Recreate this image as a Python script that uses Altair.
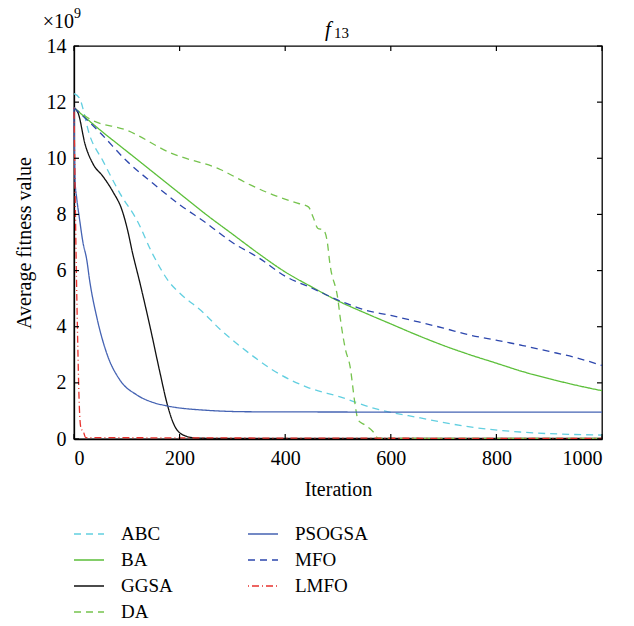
import altair as alt
import pandas as pd

# Values in units of 1e9 (the axis shows a x10^9 multiplier)
abc_x = [0, 10, 30, 55, 87, 119, 150, 182, 200, 245, 277, 315, 350, 377, 441, 504, 567, 656, 750, 845, 1000]
abc_y = [12.3, 12.15, 10.8, 9.9, 8.75, 7.8, 6.55, 5.55, 5.2, 4.5, 3.9, 3.3, 2.8, 2.45, 1.85, 1.5, 1.1, 0.75, 0.43, 0.25, 0.14]

ba_x = [0, 50, 100, 150, 200, 250, 300, 350, 400, 450, 500, 550, 600, 650, 700, 750, 800, 850, 900, 950, 1000]
ba_y = [11.8, 11.0, 10.25, 9.5, 8.75, 8.0, 7.3, 6.6, 5.95, 5.42, 4.92, 4.5, 4.1, 3.7, 3.33, 3.0, 2.7, 2.4, 2.15, 1.92, 1.72]

ggsa_x = [0, 8, 21, 36, 55, 74, 91, 102, 110, 125, 144, 163, 176, 188, 207, 233, 300, 1000]
ggsa_y = [11.8, 11.6, 10.5, 9.8, 9.35, 8.8, 8.15, 7.4, 6.7, 5.55, 4.0, 2.35, 1.28, 0.57, 0.14, 0.03, 0.02, 0.02]

da_x = [0, 30, 100, 182, 277, 334, 377, 423, 444, 453, 462, 472, 479, 485, 500, 504, 514, 523, 532, 538, 551, 567, 576, 600, 1000]
da_y = [11.8, 11.4, 11.0, 10.2, 9.6, 9.05, 8.7, 8.4, 8.27, 7.9, 7.5, 7.45, 7.1, 6.2, 4.95, 4.35, 3.2, 2.57, 1.28, 0.68, 0.5, 0.25, 0.03, 0.02, 0.02]

psogsa_x = [0, 2, 5, 10, 17, 24, 30, 43, 62, 87, 119, 150, 176, 245, 334, 600, 1000]
psogsa_y = [11.8, 9.2, 8.6, 7.9, 7.0, 6.4, 5.6, 4.35, 3.05, 2.1, 1.57, 1.3, 1.18, 1.03, 0.97, 0.96, 0.96]

mfo_x = [0, 50, 100, 150, 200, 250, 300, 350, 400, 450, 500, 550, 600, 650, 700, 750, 800, 850, 900, 950, 1000]
mfo_y = [11.8, 10.9, 9.9, 9.1, 8.35, 7.7, 7.0, 6.45, 5.8, 5.38, 4.95, 4.6, 4.4, 4.18, 3.95, 3.7, 3.52, 3.33, 3.12, 2.9, 2.62]

lmfo_x = [0, 2, 4, 7, 10, 13, 18, 22, 1000]
lmfo_y = [11.8, 9.0, 6.5, 3.5, 1.2, 0.4, 0.25, 0.05, 0.02]

series = {
    "ABC": (abc_x, abc_y),
    "BA": (ba_x, ba_y),
    "GGSA": (ggsa_x, ggsa_y),
    "DA": (da_x, da_y),
    "PSOGSA": (psogsa_x, psogsa_y),
    "MFO": (mfo_x, mfo_y),
    "LMFO": (lmfo_x, lmfo_y),
}

legend_order = ["ABC", "BA", "GGSA", "DA", "PSOGSA", "MFO", "LMFO"]
colors = ["#62cfe0", "#5cbf3a", "#111111", "#76c34e", "#4563b3", "#2d47ad", "#e8322e"]
dashes = [[7, 5], [1, 0], [1, 0], [7, 5], [1, 0], [7, 5], [1, 3, 7, 3]]

rows = []
for name, (xs_, ys_) in series.items():
    for xv, yv in zip(xs_, ys_):
        rows.append({"series": name, "Iteration": xv, "value": yv})
df = pd.DataFrame(rows)

x_ticks = [0, 200, 400, 600, 800, 1000]
y_ticks = [0, 2, 4, 6, 8, 10, 12, 14]

W, H = 528, 393
FONT = "Liberation Serif"

xs = alt.Scale(domain=[0, 1000], nice=False)
ys = alt.Scale(domain=[0, 14], nice=False)

lines = alt.Chart(df).mark_line(strokeWidth=1.3, interpolate="monotone").encode(
    x=alt.X("Iteration:Q", scale=xs,
            axis=alt.Axis(values=x_ticks, format="d", ticks=False, grid=False, title="Iteration",
                          labelPadding=9, titlePadding=11)),
    y=alt.Y("value:Q", scale=ys,
            axis=alt.Axis(values=y_ticks, format="d", ticks=False, grid=False, title="Average fitness value",
                          labelPadding=8, titlePadding=12)),
    color=alt.Color("series:N", scale=alt.Scale(domain=legend_order, range=colors), title=None),
    strokeDash=alt.StrokeDash("series:N", scale=alt.Scale(domain=legend_order, range=dashes), title=None),
    order=alt.Order("series:N"),
)

xt = pd.DataFrame({"t": x_ticks})
yt = pd.DataFrame({"t": y_ticks})
tick_style = dict(color="black", strokeWidth=1.2)
xb = alt.Chart(xt).mark_rule(**tick_style).encode(x=alt.X("t:Q", scale=xs), y=alt.value(H), y2=alt.value(H - 5))
xtp = alt.Chart(xt).mark_rule(**tick_style).encode(x=alt.X("t:Q", scale=xs), y=alt.value(0), y2=alt.value(5))
yl = alt.Chart(yt).mark_rule(**tick_style).encode(y=alt.Y("t:Q", scale=ys), x=alt.value(0), x2=alt.value(5))
yr = alt.Chart(yt).mark_rule(**tick_style).encode(y=alt.Y("t:Q", scale=ys), x=alt.value(W), x2=alt.value(W - 5))

ann = pd.DataFrame({"a": [0]})
mult = alt.Chart(ann).mark_text(text="×10", font=FONT, fontSize=20, align="right", baseline="alphabetic").encode(
    x=alt.value(0), y=alt.value(-18))
mult9 = alt.Chart(ann).mark_text(text="9", font=FONT, fontSize=14, align="left", baseline="alphabetic").encode(
    x=alt.value(0), y=alt.value(-28))
tf = alt.Chart(ann).mark_text(text="f", font=FONT, fontSize=21, fontStyle="italic", align="left", baseline="alphabetic").encode(
    x=alt.value(251), y=alt.value(-10))
t13 = alt.Chart(ann).mark_text(text="13", font=FONT, fontSize=15, align="left", baseline="alphabetic").encode(
    x=alt.value(260), y=alt.value(-8))

chart = alt.layer(lines, xb, xtp, yl, yr, mult, mult9, tf, t13).properties(
    width=W, height=H,
    autosize=alt.AutoSizeParams(type="none"),
    padding={"left": 74, "top": 46, "right": 32, "bottom": 187},
    background="white",
).configure_view(stroke="black", strokeWidth=1.3).configure_axis(
    domainColor="black", domainWidth=1.3, labelFont=FONT, titleFont=FONT,
    labelFontSize=20, titleFontSize=20, labelColor="black", titleColor="black",
    titleFontWeight="normal",
).configure_legend(
    orient="none", legendX=-1, legendY=472, columns=2, direction="vertical",
    symbolType="stroke", symbolSize=900, symbolStrokeWidth=1.5,
    labelFont=FONT, labelFontSize=19, labelColor="black", labelOffset=16,
    rowPadding=-1, columnPadding=72,
)

chart.save("out.html", embed_options={"renderer": "svg", "actions": False})
